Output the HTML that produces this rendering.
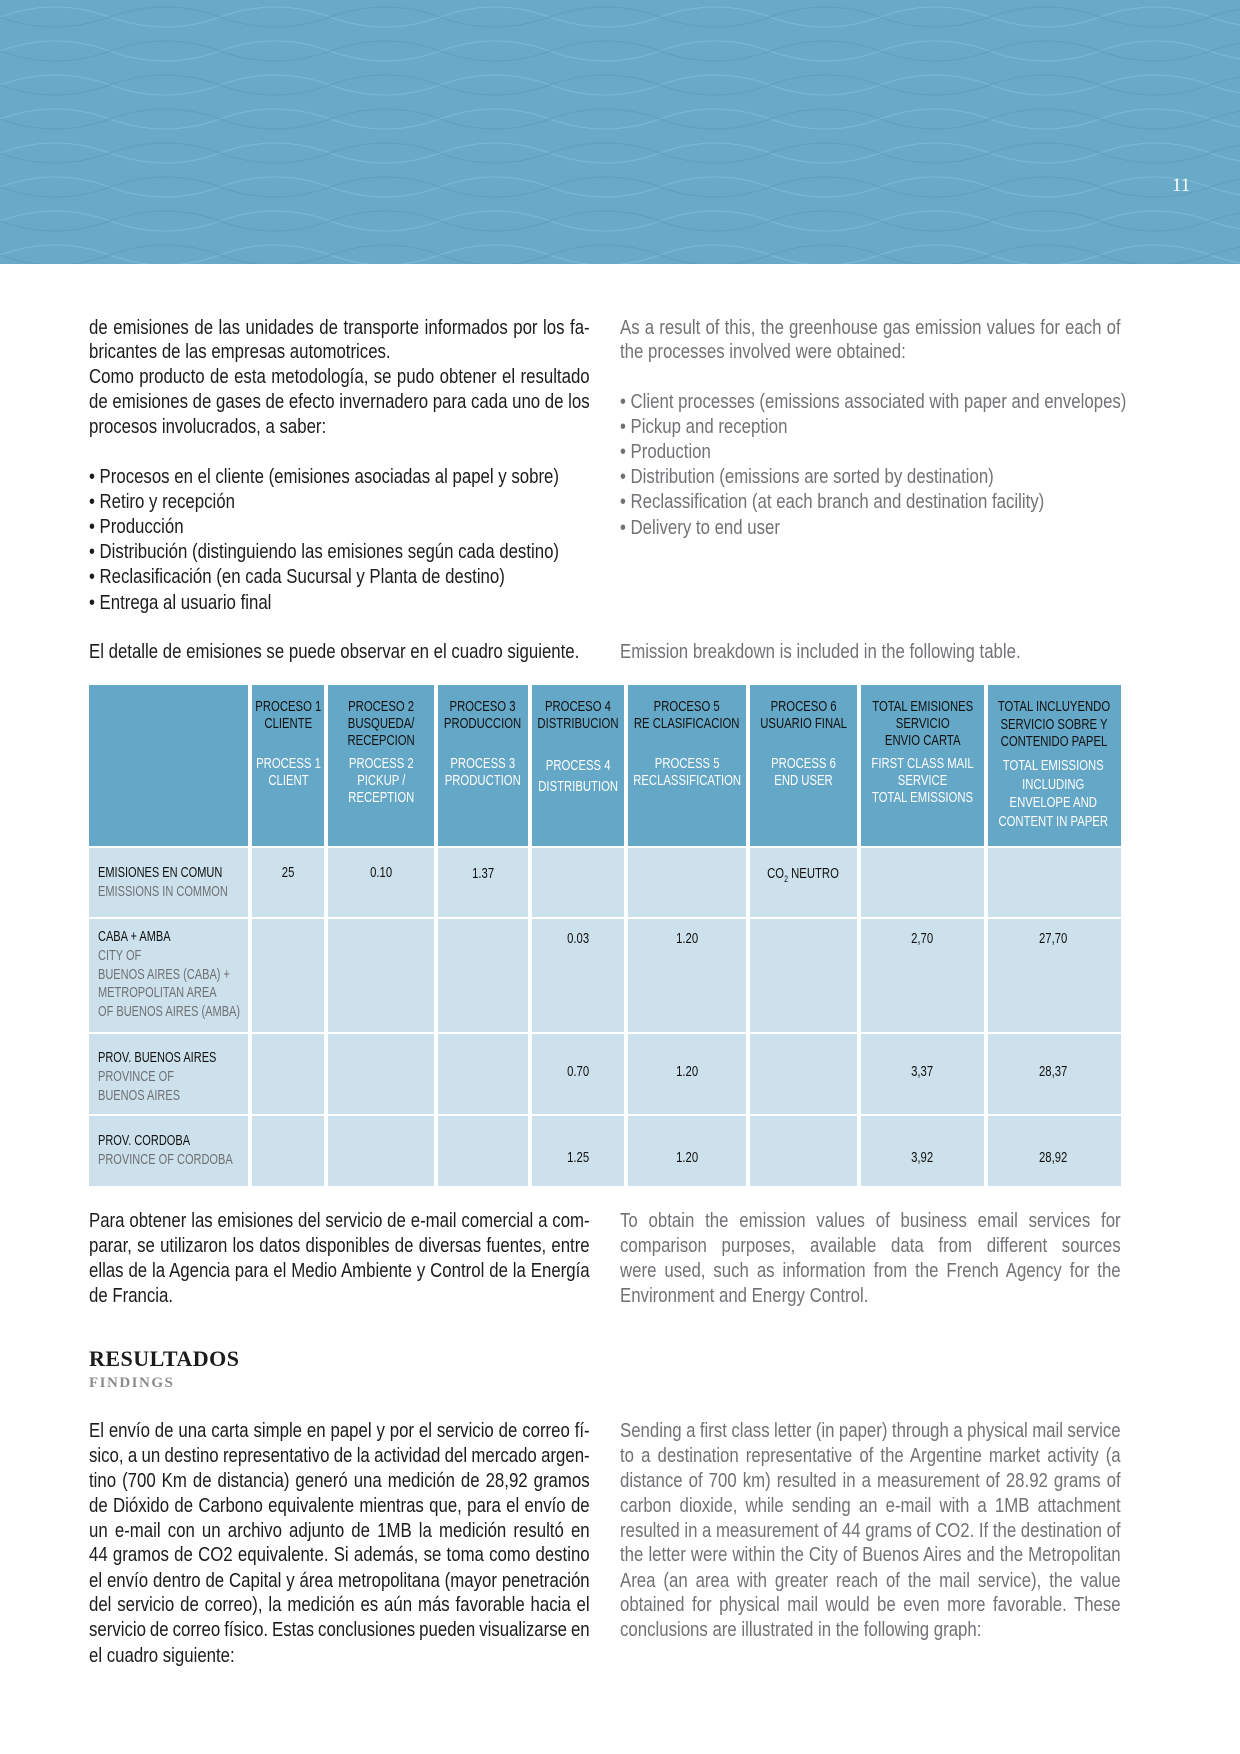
<!DOCTYPE html>
<html><head><meta charset="utf-8">
<style>
body{margin:0;width:1240px;height:1754px;position:relative;background:#fff;font-family:"Liberation Sans",sans-serif;overflow:hidden}
.l{position:absolute;white-space:nowrap;transform:scaleX(.84);transform-origin:0 0;font-size:20px;line-height:25px;color:#1c1c1c}
.r{color:#707275}
.j{text-align:justify;text-align-last:justify;white-space:normal;height:25px;overflow:hidden;word-spacing:-3px}
.c{position:absolute;display:flex;justify-content:center;text-align:center;font-size:14.5px;line-height:17px;color:#111}
.c span{display:block;flex:none;transform:scaleX(.78);white-space:nowrap}
.w{color:#fff}
.lab{position:absolute;left:98px;font-size:14.5px;line-height:18.8px;color:#111;white-space:nowrap;transform:scaleX(.76);transform-origin:0 0}
.lab .g{color:#6e7073}
.cell{position:absolute;background:#cde1ec}
.hc{position:absolute;background:#64a7c6}
</style></head><body>
<svg width="1240" height="264" style="position:absolute;left:0;top:0">
<defs><pattern id="p" width="220" height="34" patternUnits="userSpaceOnUse">
<path d="M0 17 Q55 -3 110 17 T220 17" fill="none" stroke="#80b8d2" stroke-width="1"/>
<path d="M0 17 Q55 37 110 17 T220 17" fill="none" stroke="#5e9fbe" stroke-width="1"/>
</pattern></defs>
<rect width="1240" height="264" fill="#68aac8"/>
<rect width="1240" height="264" fill="url(#p)"/>
<text x="1172" y="191" font-family="Liberation Serif" font-size="19" fill="#fff">11</text>
</svg>

<div class="l j" style="left:89px;top:316px;width:596px">de emisiones de las unidades de transporte informados por los fa-</div>
<div class="l" style="left:89px;top:340px">bricantes de las empresas automotrices.</div>
<div class="l j" style="left:89px;top:365px;width:596px">Como producto de esta metodología, se pudo obtener el resultado</div>
<div class="l j" style="left:89px;top:390px;width:596px">de emisiones de gases de efecto invernadero para cada uno de los</div>
<div class="l" style="left:89px;top:415px">procesos involucrados, a saber:</div>
<div class="l" style="left:89px;top:465px">• Procesos en el cliente (emisiones asociadas al papel y sobre)</div>
<div class="l" style="left:89px;top:490px">• Retiro y recepción</div>
<div class="l" style="left:89px;top:515px">• Producción</div>
<div class="l" style="left:89px;top:540px">• Distribución (distinguiendo las emisiones según cada destino)</div>
<div class="l" style="left:89px;top:565px">• Reclasificación (en cada Sucursal y Planta de destino)</div>
<div class="l" style="left:89px;top:591px">• Entrega al usuario final</div>
<div class="l" style="left:89px;top:640px">El detalle de emisiones se puede observar en el cuadro siguiente.</div>

<div class="l r j" style="left:620px;top:316px;width:596px">As a result of this, the greenhouse gas emission values for each of</div>
<div class="l r" style="left:620px;top:340px">the processes involved were obtained:</div>
<div class="l r" style="left:620px;top:390px">• Client processes (emissions associated with paper and envelopes)</div>
<div class="l r" style="left:620px;top:415px">• Pickup and reception</div>
<div class="l r" style="left:620px;top:440px">• Production</div>
<div class="l r" style="left:620px;top:465px">• Distribution (emissions are sorted by destination)</div>
<div class="l r" style="left:620px;top:490px">• Reclassification (at each branch and destination facility)</div>
<div class="l r" style="left:620px;top:516px">• Delivery to end user</div>
<div class="l r" style="left:620px;top:640px">Emission breakdown is included in the following table.</div>

<div class="hc" style="left:89px;top:685px;width:159px;height:161px"></div>
<div class="hc" style="left:252px;top:685px;width:72px;height:161px"></div>
<div class="hc" style="left:328px;top:685px;width:106px;height:161px"></div>
<div class="hc" style="left:438px;top:685px;width:90px;height:161px"></div>
<div class="hc" style="left:532px;top:685px;width:92px;height:161px"></div>
<div class="hc" style="left:628px;top:685px;width:118px;height:161px"></div>
<div class="hc" style="left:750px;top:685px;width:107px;height:161px"></div>
<div class="hc" style="left:861px;top:685px;width:123px;height:161px"></div>
<div class="hc" style="left:988px;top:685px;width:133px;height:161px"></div>

<div class="c" style="left:250px;width:76px;top:699px"><span>PROCESO 1<br>CLIENTE</span></div>
<div class="c w" style="left:250px;width:76px;top:756px"><span>PROCESS 1<br>CLIENT</span></div>
<div class="c" style="left:326px;width:110px;top:699px"><span>PROCESO 2<br>BUSQUEDA/<br>RECEPCION</span></div>
<div class="c w" style="left:326px;width:110px;top:756px"><span>PROCESS 2<br>PICKUP /<br>RECEPTION</span></div>
<div class="c" style="left:436px;width:94px;top:699px"><span>PROCESO 3<br>PRODUCCION</span></div>
<div class="c w" style="left:436px;width:94px;top:756px"><span>PROCESS 3<br>PRODUCTION</span></div>
<div class="c" style="left:530px;width:96px;top:699px"><span>PROCESO 4<br>DISTRIBUCION</span></div>
<div class="c w" style="left:530px;width:96px;top:756px;line-height:21px"><span>PROCESS 4<br>DISTRIBUTION</span></div>
<div class="c" style="left:626px;width:122px;top:699px"><span>PROCESO 5<br>RE CLASIFICACION</span></div>
<div class="c w" style="left:626px;width:122px;top:756px"><span>PROCESS 5<br>RECLASSIFICATION</span></div>
<div class="c" style="left:748px;width:111px;top:699px"><span>PROCESO 6<br>USUARIO FINAL</span></div>
<div class="c w" style="left:748px;width:111px;top:756px"><span>PROCESS 6<br>END USER</span></div>
<div class="c" style="left:859px;width:127px;top:699px"><span>TOTAL EMISIONES<br>SERVICIO<br>ENVIO CARTA</span></div>
<div class="c w" style="left:859px;width:127px;top:756px"><span>FIRST CLASS MAIL<br>SERVICE<br>TOTAL EMISSIONS</span></div>
<div class="c" style="left:986px;width:135px;top:699px;line-height:17.5px"><span>TOTAL INCLUYENDO<br>SERVICIO SOBRE Y<br>CONTENIDO PAPEL</span></div>
<div class="c w" style="left:986px;width:135px;top:757px;line-height:18.5px"><span>TOTAL EMISSIONS<br>INCLUDING<br>ENVELOPE AND<br>CONTENT IN PAPER</span></div>

<div class="cell" style="left:89px;top:848px;width:159px;height:69px"></div>
<div class="cell" style="left:252px;top:848px;width:72px;height:69px"></div>
<div class="cell" style="left:328px;top:848px;width:106px;height:69px"></div>
<div class="cell" style="left:438px;top:848px;width:90px;height:69px"></div>
<div class="cell" style="left:532px;top:848px;width:92px;height:69px"></div>
<div class="cell" style="left:628px;top:848px;width:118px;height:69px"></div>
<div class="cell" style="left:750px;top:848px;width:107px;height:69px"></div>
<div class="cell" style="left:861px;top:848px;width:123px;height:69px"></div>
<div class="cell" style="left:988px;top:848px;width:133px;height:69px"></div>

<div class="cell" style="left:89px;top:919px;width:159px;height:113px"></div>
<div class="cell" style="left:252px;top:919px;width:72px;height:113px"></div>
<div class="cell" style="left:328px;top:919px;width:106px;height:113px"></div>
<div class="cell" style="left:438px;top:919px;width:90px;height:113px"></div>
<div class="cell" style="left:532px;top:919px;width:92px;height:113px"></div>
<div class="cell" style="left:628px;top:919px;width:118px;height:113px"></div>
<div class="cell" style="left:750px;top:919px;width:107px;height:113px"></div>
<div class="cell" style="left:861px;top:919px;width:123px;height:113px"></div>
<div class="cell" style="left:988px;top:919px;width:133px;height:113px"></div>

<div class="cell" style="left:89px;top:1034px;width:159px;height:80px"></div>
<div class="cell" style="left:252px;top:1034px;width:72px;height:80px"></div>
<div class="cell" style="left:328px;top:1034px;width:106px;height:80px"></div>
<div class="cell" style="left:438px;top:1034px;width:90px;height:80px"></div>
<div class="cell" style="left:532px;top:1034px;width:92px;height:80px"></div>
<div class="cell" style="left:628px;top:1034px;width:118px;height:80px"></div>
<div class="cell" style="left:750px;top:1034px;width:107px;height:80px"></div>
<div class="cell" style="left:861px;top:1034px;width:123px;height:80px"></div>
<div class="cell" style="left:988px;top:1034px;width:133px;height:80px"></div>

<div class="cell" style="left:89px;top:1116px;width:159px;height:70px"></div>
<div class="cell" style="left:252px;top:1116px;width:72px;height:70px"></div>
<div class="cell" style="left:328px;top:1116px;width:106px;height:70px"></div>
<div class="cell" style="left:438px;top:1116px;width:90px;height:70px"></div>
<div class="cell" style="left:532px;top:1116px;width:92px;height:70px"></div>
<div class="cell" style="left:628px;top:1116px;width:118px;height:70px"></div>
<div class="cell" style="left:750px;top:1116px;width:107px;height:70px"></div>
<div class="cell" style="left:861px;top:1116px;width:123px;height:70px"></div>
<div class="cell" style="left:988px;top:1116px;width:133px;height:70px"></div>

<div class="lab" style="top:864px">EMISIONES EN COMUN<br><span class="g">EMISSIONS IN COMMON</span></div>
<div class="lab" style="top:928px">CABA + AMBA<br><span class="g">CITY OF<br>BUENOS AIRES (CABA) +<br>METROPOLITAN AREA<br>OF BUENOS AIRES (AMBA)</span></div>
<div class="lab" style="top:1049px">PROV. BUENOS AIRES<br><span class="g">PROVINCE OF<br>BUENOS AIRES</span></div>
<div class="lab" style="top:1132px">PROV. CORDOBA<br><span class="g">PROVINCE OF CORDOBA</span></div>

<div class="c" style="left:250px;width:76px;top:865px"><span>25</span></div>
<div class="c" style="left:326px;width:110px;top:865px"><span>0.10</span></div>
<div class="c" style="left:436px;width:94px;top:866px"><span>1.37</span></div>
<div class="c" style="left:748px;width:111px;top:866px"><span>CO<sub style="font-size:9px">2</sub> NEUTRO</span></div>

<div class="c" style="left:530px;width:96px;top:931px"><span>0.03</span></div>
<div class="c" style="left:626px;width:122px;top:931px"><span>1.20</span></div>
<div class="c" style="left:859px;width:127px;top:931px"><span>2,70</span></div>
<div class="c" style="left:986px;width:135px;top:931px"><span>27,70</span></div>

<div class="c" style="left:530px;width:96px;top:1064px"><span>0.70</span></div>
<div class="c" style="left:626px;width:122px;top:1064px"><span>1.20</span></div>
<div class="c" style="left:859px;width:127px;top:1064px"><span>3,37</span></div>
<div class="c" style="left:986px;width:135px;top:1064px"><span>28,37</span></div>

<div class="c" style="left:530px;width:96px;top:1150px"><span>1.25</span></div>
<div class="c" style="left:626px;width:122px;top:1150px"><span>1.20</span></div>
<div class="c" style="left:859px;width:127px;top:1150px"><span>3,92</span></div>
<div class="c" style="left:986px;width:135px;top:1150px"><span>28,92</span></div>

<div class="l j" style="left:89px;top:1209px;width:596px">Para obtener las emisiones del servicio de e-mail comercial a com-</div>
<div class="l j" style="left:89px;top:1234px;width:596px">parar, se utilizaron los datos disponibles de diversas fuentes, entre</div>
<div class="l j" style="left:89px;top:1259px;width:596px">ellas de la Agencia para el Medio Ambiente y Control de la Energía</div>
<div class="l" style="left:89px;top:1284px">de Francia.</div>

<div class="l r j" style="left:620px;top:1209px;width:596px">To obtain the emission values of business email services for</div>
<div class="l r j" style="left:620px;top:1234px;width:596px">comparison purposes, available data from different sources</div>
<div class="l r j" style="left:620px;top:1259px;width:596px">were used, such as information from the French Agency for the</div>
<div class="l r" style="left:620px;top:1284px">Environment and Energy Control.</div>

<div style="position:absolute;left:89px;top:1346px;font-family:'Liberation Serif',serif;font-weight:bold;font-size:22px;letter-spacing:0.5px;color:#1c1c1c">RESULTADOS</div>
<div style="position:absolute;left:89px;top:1375px;font-family:'Liberation Serif',serif;font-weight:bold;font-size:15px;letter-spacing:1.5px;color:#8a8c8e">FINDINGS</div>

<div class="l j" style="left:89px;top:1419px;width:596px">El envío de una carta simple en papel y por el servicio de correo fí-</div>
<div class="l j" style="left:89px;top:1444px;width:596px">sico, a un destino representativo de la actividad del mercado argen-</div>
<div class="l j" style="left:89px;top:1469px;width:596px">tino (700 Km de distancia) generó una medición de 28,92 gramos</div>
<div class="l j" style="left:89px;top:1494px;width:596px">de Dióxido de Carbono equivalente mientras que, para el envío de</div>
<div class="l j" style="left:89px;top:1519px;width:596px">un e-mail con un archivo adjunto de 1MB la medición resultó en</div>
<div class="l j" style="left:89px;top:1543px;width:596px">44 gramos de CO2 equivalente. Si además, se toma como destino</div>
<div class="l j" style="left:89px;top:1569px;width:596px">el envío dentro de Capital y área metropolitana (mayor penetración</div>
<div class="l j" style="left:89px;top:1593px;width:596px">del servicio de correo), la medición es aún más favorable hacia el</div>
<div class="l j" style="left:89px;top:1618px;width:596px">servicio de correo físico.  Estas conclusiones pueden visualizarse en</div>
<div class="l" style="left:89px;top:1644px">el cuadro siguiente:</div>

<div class="l r j" style="left:620px;top:1419px;width:596px">Sending a first class letter (in paper) through a physical mail service</div>
<div class="l r j" style="left:620px;top:1444px;width:596px">to a destination representative of the Argentine market activity (a</div>
<div class="l r j" style="left:620px;top:1469px;width:596px">distance of 700 km) resulted in a measurement of 28.92 grams of</div>
<div class="l r j" style="left:620px;top:1494px;width:596px">carbon dioxide, while sending an e-mail with a 1MB attachment</div>
<div class="l r j" style="left:620px;top:1519px;width:596px">resulted in a measurement of 44 grams of CO2. If the destination of</div>
<div class="l r j" style="left:620px;top:1543px;width:596px">the letter were within the City of Buenos Aires and the Metropolitan</div>
<div class="l r j" style="left:620px;top:1569px;width:596px">Area (an area with greater reach of the mail service), the value</div>
<div class="l r j" style="left:620px;top:1593px;width:596px">obtained for physical mail would be even more favorable. These</div>
<div class="l r" style="left:620px;top:1618px">conclusions are illustrated in the following graph:</div>
</body></html>
